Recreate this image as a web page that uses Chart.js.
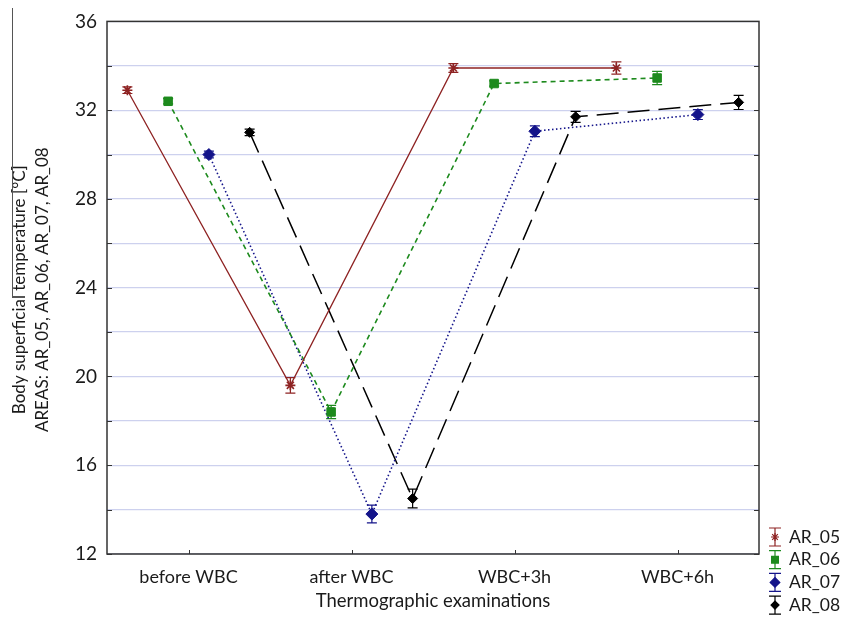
<!DOCTYPE html>
<html>
<head>
<meta charset="utf-8">
<script src="https://cdn.jsdelivr.net/npm/chart.js@4.4.1/dist/chart.umd.min.js"></script>
<style>
  html, body { margin: 0; padding: 0; background: #fff; }
  #chart { display: block; }
</style>
</head>
<body>
<canvas id="chart" width="842" height="624"></canvas>
<script>
// Data
const categories = ['before WBC', 'after WBC', 'WBC+3h', 'WBC+6h'];
const seriesNames = ['AR_05', 'AR_06', 'AR_07', 'AR_08'];
const ar05 = [32.9, 19.6, 33.9, 33.9];
const ar06 = [32.4, 18.4, 33.2, 33.45];
const ar07 = [30.0, 13.8, 31.05, 31.8];
const ar08 = [31.0, 14.5, 31.7, 32.35];
const ar05Err = [0.15, 0.35, 0.2, 0.28];
const ar06Err = [0.12, 0.3, 0.12, 0.3];
const ar07Err = [0.15, 0.4, 0.24, 0.22];
const ar08Err = [0.15, 0.42, 0.25, 0.32];
const yTickValues = [12, 16, 20, 24, 28, 32, 36];

// horizontal dodge so the four series don't overlap (in category units)
const dodge = [-0.375, -0.125, 0.125, 0.375];

const styles = [
  { color: '#8e2323', dash: [], width: 1.3, point: 'star', radius: 5 },
  { color: '#1d8a1d', dash: [5, 4], width: 1.6, point: 'rect', radius: 6 },
  { color: '#14148a', dash: [1.5, 2.5], width: 1.6, point: 'rectRot', radius: 6 },
  { color: '#000000', dash: [22, 9], width: 1.5, point: 'rectRot', radius: 5 }
];

const values = [ar05, ar06, ar07, ar08];
const errors = [ar05Err, ar06Err, ar07Err, ar08Err];

const datasets = values.map((vals, s) => ({
  label: seriesNames[s],
  data: vals.map((v, i) => ({ x: i + dodge[s], y: v })),
  errors: errors[s],
  borderColor: styles[s].color,
  backgroundColor: styles[s].color,
  borderWidth: styles[s].width,
  borderDash: styles[s].dash,
  pointStyle: styles[s].point,
  pointRadius: styles[s].radius,
  pointBorderWidth: s === 0 ? 1.6 : 1,
  pointBackgroundColor: styles[s].color,
  pointBorderColor: styles[s].color,
  showLine: true,
  tension: 0
}));

const TXT = '#1a1a1a';

// error bars, frame, inner tick marks, titles and legend
const decorations = {
  id: 'decorations',
  beforeDatasetsDraw(chart) {
    const ctx = chart.ctx;
    const y = chart.scales.y;
    chart.data.datasets.forEach((ds, s) => {
      const meta = chart.getDatasetMeta(s);
      ctx.save();
      ctx.strokeStyle = ds.borderColor;
      ctx.lineWidth = 1.2;
      meta.data.forEach((pt, i) => {
        const v = ds.data[i].y, e = ds.errors[i];
        const top = y.getPixelForValue(v + e);
        const bot = y.getPixelForValue(v - e);
        ctx.beginPath();
        ctx.moveTo(pt.x, top); ctx.lineTo(pt.x, bot);
        ctx.moveTo(pt.x - 5, top); ctx.lineTo(pt.x + 5, top);
        ctx.moveTo(pt.x - 5, bot); ctx.lineTo(pt.x + 5, bot);
        ctx.stroke();
      });
      ctx.restore();
    });
  },
  afterDraw(chart) {
    const ctx = chart.ctx;
    const a = chart.chartArea;
    const x = chart.scales.x, y = chart.scales.y;
    ctx.save();

    // frame
    ctx.strokeStyle = '#333';
    ctx.lineWidth = 1.5;
    ctx.strokeRect(a.left, a.top, a.right - a.left, a.bottom - a.top);

    // small inner ticks
    ctx.lineWidth = 1;
    ctx.beginPath();
    for (let v = 12; v <= 36; v += 2) {
      const py = Math.round(y.getPixelForValue(v)) + 0.5;
      ctx.moveTo(a.left, py); ctx.lineTo(a.left + 5, py);
      ctx.moveTo(a.right - 5, py); ctx.lineTo(a.right, py);
    }
    categories.forEach((c, i) => {
      const px = Math.round(x.getPixelForValue(i)) + 0.5;
      ctx.moveTo(px, a.bottom); ctx.lineTo(px, a.bottom - 4);
    });
    ctx.stroke();

    // axis titles
    ctx.fillStyle = TXT;
    ctx.font = '18.5px Lato';
    ctx.textAlign = 'center';
    ctx.textBaseline = 'middle';
    ctx.fillText('Thermographic examinations', (a.left + a.right) / 2, 601);

    ctx.save();
    ctx.font = '17px Lato';
    ctx.translate(20, (a.top + a.bottom) / 2 + 2);
    ctx.rotate(-Math.PI / 2);
    ctx.fillText('Body superficial temperature [\u00B0C]', 0, 0);
    ctx.fillText('AREAS: AR_05, AR_06, AR_07, AR_08', 0, 23);
    ctx.restore();

    // thin line left of the y title
    ctx.strokeStyle = '#555';
    ctx.lineWidth = 1;
    ctx.beginPath();
    ctx.moveTo(12.5, 8); ctx.lineTo(12.5, 298);
    ctx.stroke();

    // legend
    const lx = 775, ly0 = 537, step = 22.7;
    chart.data.datasets.forEach((ds, s) => {
      const cy = ly0 + s * step;
      ctx.strokeStyle = ds.borderColor;
      ctx.lineWidth = 1.2;
      ctx.setLineDash([]);
      ctx.beginPath();
      ctx.moveTo(lx, cy - 9); ctx.lineTo(lx, cy + 9);
      ctx.moveTo(lx - 6, cy - 9); ctx.lineTo(lx + 6, cy - 9);
      ctx.moveTo(lx - 6, cy + 9); ctx.lineTo(lx + 6, cy + 9);
      ctx.stroke();
      ctx.fillStyle = ds.borderColor;
      Chart.helpers.drawPoint(ctx, {
        pointStyle: ds.pointStyle,
        radius: ds.pointRadius * 0.8,
        borderWidth: 1
      }, lx, cy);
      ctx.fillStyle = TXT;
      ctx.font = '17.5px Lato';
      ctx.textAlign = 'left';
      ctx.textBaseline = 'middle';
      ctx.fillText(ds.label, lx + 14, cy);
    });

    ctx.restore();
  }
};

Chart.defaults.font.family = 'Lato';
Chart.defaults.color = TXT;

new Chart(document.getElementById('chart'), {
  type: 'line',
  data: { datasets },
  options: {
    responsive: false,
    animation: false,
    devicePixelRatio: 1,
    layout: { padding: { top: 17, right: 83, left: 0, bottom: 0 } },
    plugins: {
      legend: { display: false },
      tooltip: { enabled: false }
    },
    scales: {
      x: {
        type: 'linear',
        min: -0.5,
        max: 3.5,
        afterBuildTicks: scale => { scale.ticks = categories.map((c, i) => ({ value: i })); },
        afterFit: scale => { scale.height = 70; },
        grid: { display: false, drawTicks: false },
        border: { display: false },
        ticks: {
          padding: 12,
          maxRotation: 0,
          font: { size: 18 },
          callback: v => categories[v]
        }
      },
      y: {
        min: 12,
        max: 36,
        afterFit: scale => { scale.width = 107; },
        grid: { color: '#cdd1ee', lineWidth: 1.2, drawTicks: false },
        border: { display: false },
        ticks: {
          stepSize: 2,
          padding: 10,
          font: { size: 19 },
          callback: v => (yTickValues.includes(v) ? v : '')
        }
      }
    }
  },
  plugins: [decorations]
});
</script>
</body>
</html>
